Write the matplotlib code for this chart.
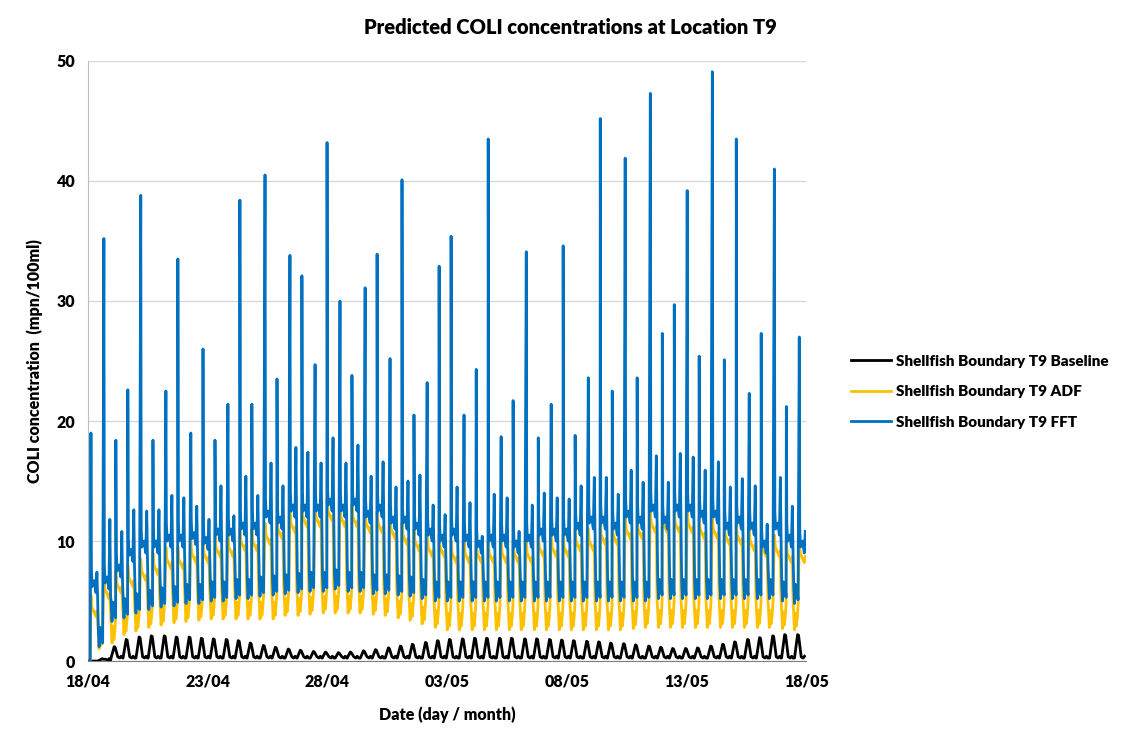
import numpy as np
import matplotlib.pyplot as plt

plt.rcParams['font.family'] = ['Lato', 'DejaVu Sans']
plt.rcParams['font.weight'] = 'heavy'
plt.rcParams['axes.labelweight'] = 'heavy'

# day (after 18/04 00:00) of each tidal cycle's main FFT spike
spike_day = [0.13, 0.67, 1.17, 1.67, 2.21, 2.72, 3.26, 3.76, 4.30, 4.81,
             5.31, 5.85, 6.35, 6.85, 7.40, 7.90, 8.44, 8.94, 9.49, 9.99,
             10.53, 11.03, 11.58, 12.08, 12.62, 13.12, 13.62, 14.17, 14.67, 15.17,
             15.71, 16.22, 16.72, 17.26, 17.76, 18.31, 18.81, 19.35, 19.85, 20.35,
             20.90, 21.40, 21.90, 22.44, 22.94, 23.49, 23.99, 24.49, 25.03, 25.53,
             26.08, 26.58, 27.08, 27.62, 28.12, 28.67, 29.17, 29.71]

# FFT: main spike, level after spike, secondary spike, trough
fft_peak = [19.0, 35.2, 18.4, 22.6, 38.8, 18.4, 22.5, 33.5, 19.0, 26.0,
            18.4, 21.4, 38.4, 21.4, 40.5, 23.5, 33.8, 32.1, 24.7, 43.2,
            30.0, 23.8, 31.1, 33.9, 25.2, 40.1, 20.5, 23.2, 32.9, 35.4,
            20.5, 24.3, 43.5, 18.7, 21.7, 34.1, 18.6, 21.4, 34.6, 18.8,
            23.6, 45.2, 22.5, 41.9, 23.6, 47.3, 27.3, 29.7, 39.2, 25.4,
            49.1, 25.1, 43.5, 22.3, 27.3, 41.0, 21.2, 27.0]
fft_hi = [6.2, 6.5, 7.5, 8.8, 9.5, 9.5, 10.0, 10.0, 10.2, 9.8,
          10.5, 10.5, 11.0, 11.0, 12.0, 11.5, 12.5, 12.5, 12.5, 13.0,
          12.5, 13.0, 12.0, 12.5, 11.5, 11.5, 11.0, 10.5, 10.0, 10.5,
          10.0, 9.5, 10.0, 10.0, 9.5, 10.0, 10.5, 10.5, 10.5, 11.0,
          11.5, 11.5, 11.0, 12.0, 11.5, 12.5, 11.5, 12.5, 12.5, 12.0,
          12.0, 11.0, 11.5, 11.0, 9.5, 11.0, 10.0, 9.5]
fft_sec = [7.4, 11.8, 10.8, 12.6, 12.5, 12.6, 13.8, 13.6, 12.9, 11.8,
           14.6, 12.1, 15.4, 13.8, 16.5, 14.6, 17.8, 17.4, 16.5, 18.6,
           16.5, 18.0, 15.4, 16.6, 14.5, 15.0, 15.5, 13.0, 12.2, 14.5,
           13.2, 10.4, 13.9, 13.6, 10.8, 13.0, 14.0, 13.6, 13.5, 14.6,
           15.3, 15.3, 13.9, 15.9, 14.9, 17.1, 14.9, 17.3, 17.0, 15.9,
           16.6, 14.5, 15.2, 14.6, 11.4, 15.3, 12.9, 10.8]
fft_lo = [1.2, 3.3, 3.6, 4.0, 4.3, 4.5, 4.6, 4.8, 4.8, 5.0,
          5.0, 5.2, 5.2, 5.4, 5.5, 5.6, 5.7, 5.8, 5.8, 6.0,
          5.8, 5.8, 5.6, 5.6, 5.5, 5.4, 5.2, 5.0, 5.0, 5.0,
          5.0, 5.0, 5.0, 5.0, 5.0, 5.0, 5.0, 5.0, 5.0, 5.0,
          5.0, 5.0, 5.0, 5.0, 5.0, 5.2, 5.2, 5.2, 5.2, 5.2,
          5.2, 5.2, 5.2, 5.2, 5.2, 5.0, 4.8, 4.8]

# ADF: high level and trough per cycle
adf_hi = [4.5, 6.0, 6.5, 7.0, 7.5, 8.0, 8.5, 8.5, 9.0, 9.0,
          9.5, 9.5, 10.0, 10.0, 10.5, 11.0, 11.5, 12.0, 12.0, 12.5,
          12.0, 12.0, 11.5, 11.5, 11.0, 10.5, 10.0, 9.5, 9.5, 9.0,
          9.0, 9.0, 9.0, 9.0, 9.0, 9.0, 9.5, 9.5, 9.5, 10.0,
          10.0, 10.5, 10.5, 11.0, 11.0, 11.5, 11.5, 11.5, 11.5, 11.0,
          11.0, 10.5, 10.5, 10.0, 9.5, 9.5, 9.0, 9.0]
adf_lo = [1.0, 1.5, 2.2, 2.5, 2.8, 3.0, 3.2, 3.3, 3.4, 3.5,
          3.5, 3.5, 3.5, 3.5, 3.5, 3.8, 3.8, 3.9, 4.0, 4.0,
          4.0, 4.0, 3.9, 3.8, 3.6, 3.4, 3.1, 2.8, 2.6, 2.6,
          2.6, 2.6, 2.6, 2.6, 2.6, 2.6, 2.6, 2.6, 2.6, 2.6,
          2.6, 2.6, 2.6, 2.7, 2.8, 2.8, 2.8, 2.8, 2.8, 2.8,
          2.8, 2.8, 2.8, 2.8, 2.8, 2.7, 2.6, 2.6]

# Baseline: bump per cycle and low level
base_pk = [0.0, 0.2, 1.2, 1.8, 2.0, 2.1, 2.1, 2.0, 2.0, 1.9,
           1.85, 1.8, 1.7, 1.5, 1.3, 1.15, 1.0, 0.9, 0.8, 0.75,
           0.7, 0.75, 0.85, 0.95, 1.1, 1.25, 1.4, 1.55, 1.7, 1.8,
           1.85, 1.9, 1.9, 1.9, 1.9, 1.85, 1.85, 1.8, 1.75, 1.7,
           1.65, 1.6, 1.5, 1.45, 1.35, 1.25, 1.15, 1.05, 1.05, 1.1,
           1.25, 1.4, 1.6, 1.8, 1.95, 2.1, 2.2, 2.2]
base_lo = [0.0, 0.05] + [0.25] * 56

x_ticks = [0, 5, 10, 15, 20, 25, 30]
x_labels = ['18/04', '23/04', '28/04', '03/05', '08/05', '13/05', '18/05']
t_end = 29.97

# build the series, cycle by cycle
t_b, y_b = [0.0, 0.4], [0.0, 0.0]
t_a, y_a = [0.0, 0.1], [0.0, 0.0]
t_f, y_f = [0.0, 0.1], [0.0, 0.0]
for i, d in enumerate(spike_day):
    pk, hi, sec, lo = fft_peak[i], fft_hi[i], fft_sec[i], fft_lo[i]
    for o, v in [(0.0, pk), (0.02, hi + 1.5), (0.05, hi), (0.14, hi + 0.5),
                 (0.21, hi - 0.5), (0.25, sec), (0.28, hi - 1.0), (0.31, lo + 1.4),
                 (0.34, lo), (0.38, lo + 1.6), (0.41, lo + 0.5), (0.45, lo + 1.2),
                 (0.49, lo + 0.3)]:
        t_f.append(d + o)
        y_f.append(v)
    ah, al = adf_hi[i], adf_lo[i]
    for o, v in [(0.0, ah + 1.0), (0.04, ah), (0.21, ah - 0.8), (0.25, ah - 0.3),
                 (0.28, al + 2.4), (0.31, al + 1.3), (0.34, al), (0.38, al + 1.4),
                 (0.42, al + 0.3), (0.46, al + 1.1), (0.49, al + 2.0)]:
        t_a.append(d + o)
        y_a.append(v)
    bp, bl = base_pk[i], base_lo[i]
    for o, v in [(-0.20, bl), (-0.07, bp), (-0.03, bp - 0.05), (0.08, bl + 0.1),
                 (0.16, bl), (0.22, bl + 0.15), (0.28, bl)]:
        if d + o > 0.4:
            t_b.append(d + o)
            y_b.append(v)

def cut(t, y):
    t, y = np.array(t), np.array(y)
    keep = t <= t_end
    return t[keep], y[keep]

fig = plt.figure(figsize=(11.26, 7.39), dpi=100)
ax = fig.add_axes([0.078, 0.1055, 0.638, 0.812])

ax.plot(*cut(t_b, y_b), color='black', lw=2.0, label='Shellfish Boundary T9 Baseline', zorder=3)
ax.plot(*cut(t_a, y_a), color='#FFC000', lw=2.0, label='Shellfish Boundary T9 ADF', zorder=4)
ax.plot(*cut(t_f, y_f), color='#0070C0', lw=2.0, label='Shellfish Boundary T9 FFT', zorder=5)

ax.set_xlim(0, 30)
ax.set_ylim(0, 50)
ax.set_yticks([0, 10, 20, 30, 40, 50])
ax.set_xticks(x_ticks)
ax.set_xticklabels(x_labels)
ax.grid(axis='y', color='#d9d9d9', lw=1)
ax.set_axisbelow(True)
for s in ['top', 'right']:
    ax.spines[s].set_visible(False)
ax.spines['left'].set_color('#bfbfbf')
ax.spines['bottom'].set_color('#7f7f7f')
ax.tick_params(length=0, labelsize=11.5, pad=9)

ax.set_xlabel('Date (day / month)', fontsize=11.5, labelpad=12)
ax.set_ylabel('COLI concentration  (mpn/100ml)', fontsize=11.5, labelpad=10)
fig.text(0.507, 0.963, 'Predicted COLI concentrations at Location T9',
         ha='center', va='center', fontsize=14.5)

leg = fig.legend(loc='center left', bbox_to_anchor=(0.744, 0.47), frameon=False,
                 handlelength=2.6, handletextpad=0.3, labelspacing=1.15,
                 prop={'size': 11})
for h in leg.get_lines():
    h.set_linewidth(2.0)

fig.savefig('out.png', dpi=100)
